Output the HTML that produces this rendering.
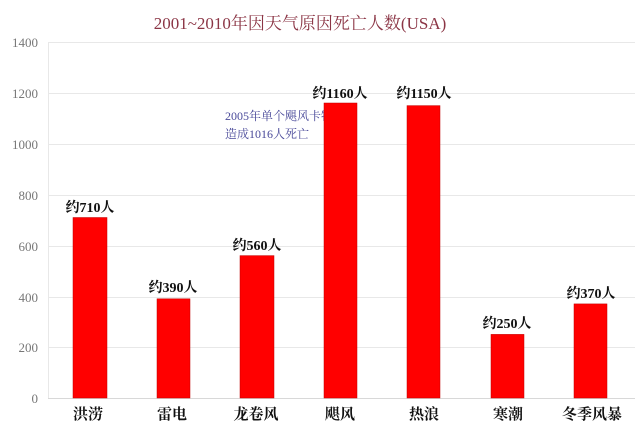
<!DOCTYPE html>
<html><head><meta charset="utf-8">
<style>
html,body{margin:0;padding:0;background:#fff;}
svg{display:block;}
.t{font-family:"Liberation Serif","Noto Serif CJK SC",serif;}
</style></head>
<body>
<svg width="640" height="430" viewBox="0 0 640 430" xmlns="http://www.w3.org/2000/svg">
<rect width="640" height="430" fill="#fff"/>
<g stroke="#e8e8e8" stroke-width="1">
<line x1="48" y1="42.5" x2="635" y2="42.5"/>
<line x1="48" y1="93.5" x2="635" y2="93.5"/>
<line x1="48" y1="144.5" x2="635" y2="144.5"/>
<line x1="48" y1="195.5" x2="635" y2="195.5"/>
<line x1="48" y1="246.5" x2="635" y2="246.5"/>
<line x1="48" y1="297.5" x2="635" y2="297.5"/>
<line x1="48" y1="347.5" x2="635" y2="347.5"/>
</g>
<line x1="48.5" y1="42" x2="48.5" y2="398" stroke="#e8e8e8"/>
<line x1="48" y1="398.5" x2="635" y2="398.5" stroke="#d8d8d8"/>
<g class="t" font-size="13" fill="#777" text-anchor="end">
<text x="38" y="47">1400</text>
<text x="38" y="98">1200</text>
<text x="38" y="149">1000</text>
<text x="38" y="200">800</text>
<text x="38" y="251">600</text>
<text x="38" y="302">400</text>
<text x="38" y="352">200</text>
<text x="38" y="403">0</text>
</g>
<text class="t" x="300" y="29" font-size="17" fill="#8b3545" text-anchor="middle">2001~2010年因天气原因死亡人数(USA)</text>
<g class="t" font-size="12" fill="#4a4a9a">
<text x="225" y="120">2005年单个飓风卡特里娜</text>
<text x="225" y="138">造成1016人死亡</text>
</g>
<g fill="#ff0000" stroke="#c00000" stroke-width="0.5">
<rect x="73" y="217.5" width="34" height="180.5"/>
<rect x="157" y="298.8" width="33" height="99.2"/>
<rect x="240" y="255.6" width="34" height="142.4"/>
<rect x="324" y="103" width="33" height="295"/>
<rect x="407" y="105.6" width="33" height="292.4"/>
<rect x="491" y="334.4" width="33" height="63.6"/>
<rect x="574" y="303.9" width="33" height="94.1"/>
</g>
<g class="t" font-size="14" fill="#111" text-anchor="middle" font-weight="bold">
<text x="90" y="212">约710人</text>
<text x="173" y="292">约390人</text>
<text x="257" y="250">约560人</text>
<text x="340" y="98">约1160人</text>
<text x="424" y="98">约1150人</text>
<text x="507" y="328">约250人</text>
<text x="591" y="298">约370人</text>
</g>
<g class="t" font-size="15" fill="#111" text-anchor="middle" font-weight="bold">
<text x="88" y="419">洪涝</text>
<text x="172" y="419">雷电</text>
<text x="256" y="419">龙卷风</text>
<text x="340" y="419">飓风</text>
<text x="424" y="419">热浪</text>
<text x="508" y="419">寒潮</text>
<text x="592" y="419">冬季风暴</text>
</g>
</svg>
</body></html>
